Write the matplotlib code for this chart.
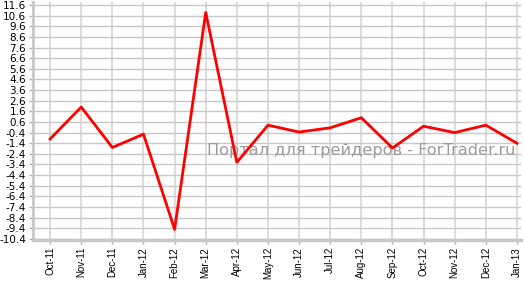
import matplotlib
matplotlib.use("Agg")
import matplotlib.pyplot as plt
import numpy as np

months = ["Oct-11", "Nov-11", "Dec-11", "Jan-12", "Feb-12", "Mar-12", "Apr-12", "May-12",
          "Jun-12", "Jul-12", "Aug-12", "Sep-12", "Oct-12", "Nov-12", "Dec-12", "Jan-13"]
values = [-1.0, 2.0, -1.8, -0.55, -9.5, 10.9, -3.2, 0.3,
          -0.35, 0.05, 1.0, -1.85, 0.2, -0.4, 0.3, -1.4]
yticks = [round(-10.4 + i, 1) for i in range(23)]

fig = plt.figure(figsize=(5.24, 2.81), dpi=100)
ax = fig.add_axes([33/524, 41/281, 488/524, 238/281])

x = np.arange(len(months))
ax.plot(x, values, color="#ff0000", lw=2, zorder=3)

ax.set_xlim(-0.55, 15.13)
ax.set_ylim(-10.5, 11.88)
ax.set_yticks(yticks)
ax.set_yticklabels([f"{v:.1f}" for v in yticks], fontsize=7.5, color="black")
ax.set_xticks(x)
ax.set_xticklabels(months, rotation=90, fontsize=7, family="Liberation Sans")

ax.grid(axis="y", color="#c8c8c8", lw=1)
ax.grid(axis="x", color="#dddddd", lw=1.5)
ax.set_axisbelow(True)

for s in ["top", "right"]:
    ax.spines[s].set_visible(False)
ax.spines["left"].set_color("#c8c8c8")
ax.spines["left"].set_linewidth(2)
ax.spines["bottom"].set_color("#c8c8c8")
ax.spines["bottom"].set_linewidth(2.5)
ax.tick_params(axis="both", color="#b0b0b0", length=3, width=1, pad=2)

ax.text(0.357, 0.374, "Портал для трейдеров - ForTrader.ru", transform=ax.transAxes,
        fontsize=11.6, color="#a09a9a", ha="left", va="center", zorder=2)

fig.savefig("out.png", dpi=100)
